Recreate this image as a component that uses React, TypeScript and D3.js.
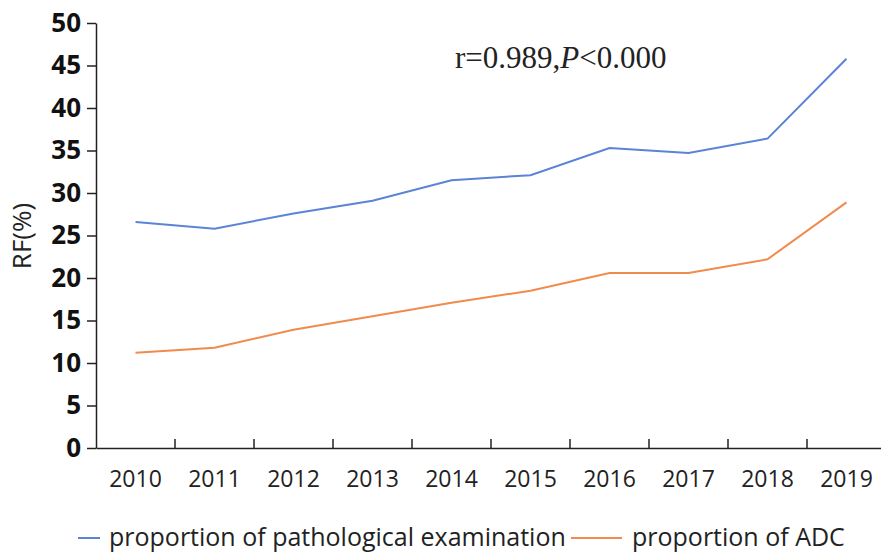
import React, { useRef, useEffect } from "react";
import * as d3 from "d3";

const years = ["2010", "2011", "2012", "2013", "2014", "2015", "2016", "2017", "2018", "2019"];
const pathological = [26.6, 25.8, 27.6, 29.1, 31.5, 32.1, 35.3, 34.7, 36.4, 45.8];
const adc = [11.2, 11.8, 13.9, 15.5, 17.1, 18.5, 20.6, 20.6, 22.2, 28.9];
const yTicks = [0, 5, 10, 15, 20, 25, 30, 35, 40, 45, 50];

const seriesList = [
  { name: "proportion of pathological examination", values: pathological, color: "#5b83d6" },
  { name: "proportion of ADC", values: adc, color: "#f28a4c" },
];

const W = 881;
const H = 558;
const font = "'Open Sans', 'Noto Sans', sans-serif";

const App = () => {
  const ref = useRef<SVGSVGElement>(null);

  useEffect(() => {
    const svg = d3.select(ref.current);
    svg.selectAll("*").remove();

    const x = d3.scaleBand().domain(years).range([96, 886]);
    const y = d3.scaleLinear().domain([0, 50]).range([448, 23]);

    // y axis
    const yAxis = svg
      .append("g")
      .attr("transform", "translate(96,0)")
      .call(d3.axisLeft(y).tickValues(yTicks).tickSize(9).tickSizeOuter(0).tickPadding(6));
    yAxis.select(".domain").attr("stroke", "#222").attr("stroke-width", 1.5);
    yAxis.selectAll(".tick line").attr("stroke", "#222").attr("stroke-width", 1.5);
    yAxis
      .selectAll(".tick text")
      .attr("font-family", font)
      .attr("font-size", 26)
      .attr("font-weight", "bold")
      .attr("fill", "#111");

    // x axis: ticks between bands
    const xAxis = svg
      .append("g")
      .attr("transform", "translate(0,448)")
      .call(d3.axisBottom(x).tickSize(0).tickSizeOuter(0).tickPadding(23));
    xAxis.select(".domain").attr("stroke", "#222").attr("stroke-width", 1.5);
    xAxis
      .selectAll(".tick text")
      .attr("font-family", font)
      .attr("font-size", 23)
      .attr("fill", "#222");
    svg
      .append("g")
      .selectAll("line")
      .data(years.slice(1))
      .join("line")
      .attr("x1", (d) => x(d)!)
      .attr("x2", (d) => x(d)!)
      .attr("y1", 448)
      .attr("y2", 439)
      .attr("stroke", "#222")
      .attr("stroke-width", 1.5);

    // y label
    svg
      .append("text")
      .attr("transform", "translate(31,236) rotate(-90)")
      .attr("text-anchor", "middle")
      .attr("font-family", font)
      .attr("font-size", 26)
      .attr("fill", "#222")
      .text("RF(%)");

    // lines
    const line = d3
      .line<number>()
      .x((_, i) => x(years[i])! + x.bandwidth() / 2)
      .y((d) => y(d));

    seriesList.forEach((s) => {
      svg
        .append("path")
        .datum(s.values)
        .attr("d", line)
        .attr("fill", "none")
        .attr("stroke", s.color)
        .attr("stroke-width", 2);
    });

    // annotation
    const ann = svg
      .append("text")
      .attr("x", 455)
      .attr("y", 68)
      .attr("font-family", "'Liberation Serif', 'Times New Roman', serif")
      .attr("font-size", 31)
      .attr("fill", "#222");
    ann.append("tspan").text("r=0.989,");
    ann.append("tspan").attr("font-style", "italic").text("P");
    ann.append("tspan").text("<0.000");

    // legend
    const legendPos = [
      { x1: 78, x2: 100, tx: 109 },
      { x1: 571, x2: 622, tx: 632 },
    ];
    seriesList.forEach((s, i) => {
      const p = legendPos[i];
      svg
        .append("line")
        .attr("x1", p.x1)
        .attr("x2", p.x2)
        .attr("y1", 538)
        .attr("y2", 538)
        .attr("stroke", s.color)
        .attr("stroke-width", 2);
      svg
        .append("text")
        .attr("x", p.tx)
        .attr("y", 546)
        .attr("font-family", font)
        .attr("font-size", 25)
        .attr("fill", "#222")
        .text(s.name);
    });
  }, []);

  return (
    <svg
      ref={ref}
      width={W}
      height={H}
      style={{ position: "absolute", left: 0, top: 0, background: "#fff" }}
    />
  );
};

export default App;
